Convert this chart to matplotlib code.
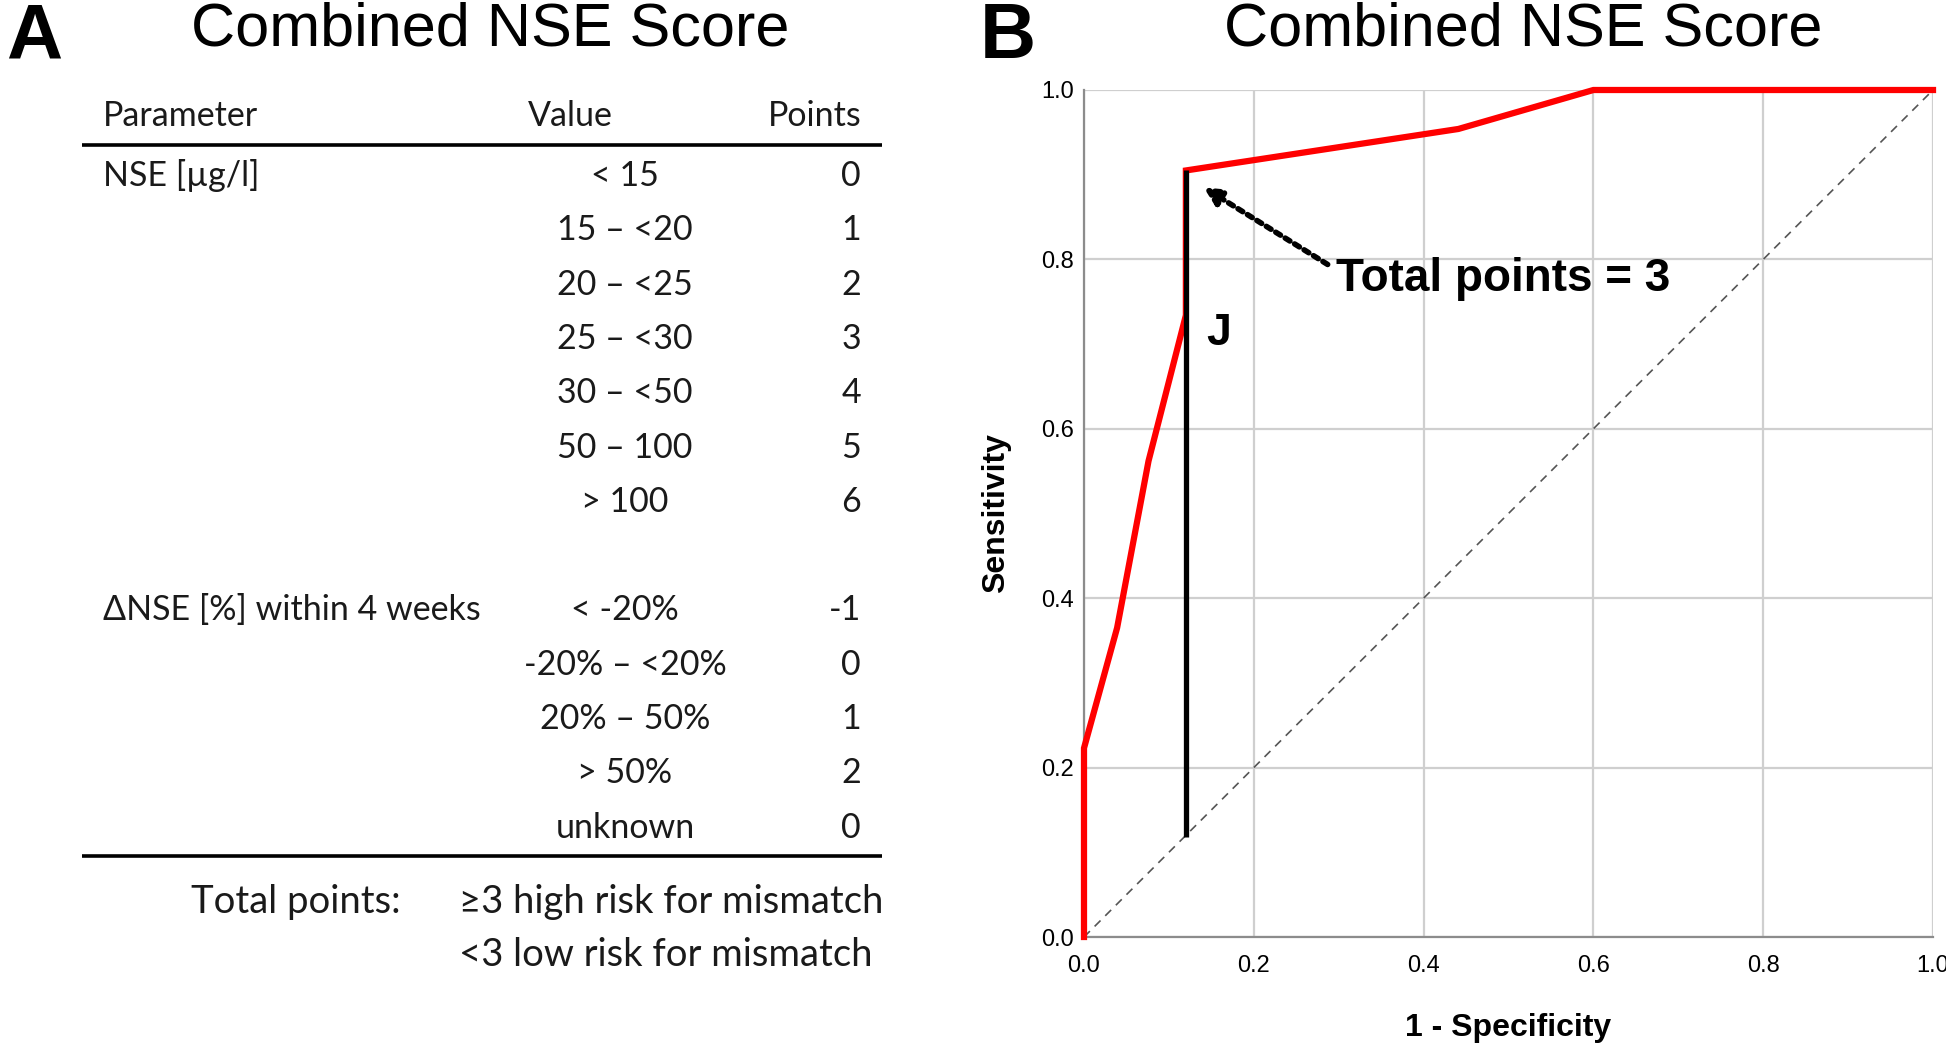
import matplotlib
matplotlib.use('Agg')
import matplotlib.pyplot as plt
from matplotlib import font_manager

# table data (panel A)
parameters = ['NSE [µg/l]', 'ΔNSE [%] within 4 weeks']
nse_values = ['< 15', '15 – <20', '20 – <25', '25 – <30', '30 – <50', '50 – 100', '> 100']
nse_points = ['0', '1', '2', '3', '4', '5', '6']
delta_values = ['< -20%', '-20% – <20%', '20% – 50%', '> 50%', 'unknown']
delta_points = ['-1', '0', '1', '2', '0']
total_label = 'Total points:'
total_rules = ['≥3 high risk for mismatch', '<3 low risk for mismatch']

# ROC data (panel B)
fpr = [0.0, 0.0, 0.039, 0.076, 0.12, 0.12, 0.441, 0.60, 1.0]
tpr = [0.0, 0.223, 0.365, 0.562, 0.734, 0.905, 0.954, 1.0, 1.0]
j_x = 0.12
j_low, j_high = 0.118, 0.906
ticks = [0.0, 0.2, 0.4, 0.6, 0.8, 1.0]


def has_font(name):
    try:
        font_manager.findfont(font_manager.FontProperties(family=name), fallback_to_default=False)
        return True
    except Exception:
        return False


helv = 'Liberation Sans'
narrow = 'Liberation Sans Narrow' if has_font('Liberation Sans Narrow') else helv
tabfont = 'Lato'
tsize = 24.5
fsize = 27.5
tcol = '#1a1a1a'

W, H = 1946, 1047
fig = plt.figure(figsize=(W / 100, H / 100), dpi=100)

# ---- panel A: drawn in pixel coords ----
tab = fig.add_axes([0, 0, 1, 1])
tab.set_xlim(0, W)
tab.set_ylim(H, 0)
tab.axis('off')

tab.text(6, 38, 'A', fontsize=56, fontweight='bold', family=narrow, va='center', ha='left')
tab.text(490, 30, 'Combined NSE Score', fontsize=44 if narrow == helv else 53,
         family=narrow, va='center', ha='center')

tab.text(103, 116, 'Parameter', fontsize=tsize, family=tabfont, color=tcol, va='center')
tab.text(570, 116, 'Value', fontsize=tsize, family=tabfont, color=tcol, va='center', ha='center')
tab.text(862, 116, 'Points', fontsize=tsize, family=tabfont, color=tcol, va='center', ha='right')
tab.plot([82, 882], [145, 145], color='black', lw=2.6, solid_capstyle='butt')

row0, step = 176, 54.3
rows = list(zip(nse_values, nse_points)) + [None] + list(zip(delta_values, delta_points))
for i, r in enumerate(rows):
    if r is None:
        continue
    y = row0 + i * step
    tab.text(625, y, r[0], fontsize=tsize, family=tabfont, color=tcol, va='center', ha='center')
    tab.text(861, y, r[1], fontsize=tsize, family=tabfont, color=tcol, va='center', ha='right')
tab.text(103, row0, parameters[0], fontsize=tsize, family=tabfont, color=tcol, va='center')
tab.text(103, row0 + (len(nse_values) + 1) * step, parameters[1], fontsize=tsize,
         family=tabfont, color=tcol, va='center')
tab.plot([82, 882], [856, 856], color='black', lw=2.6, solid_capstyle='butt')

tab.text(401, 902, total_label, fontsize=fsize, family=tabfont, color=tcol, va='center', ha='right')
for k, s in enumerate(total_rules):
    tab.text(459, 902 + k * 53, s, fontsize=fsize, family=tabfont, color=tcol, va='center', ha='left')

# ---- panel B: ROC ----
ax = fig.add_axes([1084 / W, 1 - 937 / H, (1933 - 1084) / W, (937 - 90) / H])
ax.set_xlim(0, 1)
ax.set_ylim(0, 1)
ax.set_xticks(ticks)
ax.set_yticks(ticks)
ax.set_xticklabels([f'{t:.1f}' for t in ticks], family=helv, fontsize=17)
ax.set_yticklabels([f'{t:.1f}' for t in ticks], family=helv, fontsize=17)
ax.tick_params(length=0, pad=7)
ax.tick_params(axis='x', pad=13)
ax.grid(True, color='#cfcfcf', lw=1.6)
ax.set_axisbelow(True)
for s in ['top', 'right']:
    ax.spines[s].set_visible(False)
for s in ['left', 'bottom']:
    ax.spines[s].set_color('#8c8c8c')
    ax.spines[s].set_linewidth(1.6)

ax.plot([0, 1], [0, 1], ls=(0, (5, 4)), color='#555555', lw=1.2, clip_on=False)
ax.plot(fpr, tpr, color='#ff0000', lw=4.5, clip_on=False, solid_joinstyle='miter', zorder=3)
ax.plot([j_x, j_x], [j_low, j_high], color='black', lw=3.8, zorder=4, solid_capstyle='butt')

ax.annotate('', xy=(0.141, 0.885), xytext=(0.287, 0.794),
            arrowprops=dict(arrowstyle='-|>', ls=(0, (1, 1)), lw=4, color='black',
                            mutation_scale=26, shrinkA=0, shrinkB=0))
ax.text(0.297, 0.777, 'Total points = 3', fontsize=33, fontweight='bold', family=helv,
        va='center', ha='left')
ax.text(0.159, 0.713, 'J', fontsize=32, fontweight='bold', family=helv, va='center', ha='center')

ax.set_xlabel('1 - Specificity', fontsize=23, fontweight='bold', family=helv, labelpad=26)
ax.set_ylabel('Sensitivity', fontsize=23, fontweight='bold', family=helv, labelpad=22)

fig.text(980 / W, 1 - 38 / H, 'B', fontsize=56, fontweight='bold', family=narrow, va='center')
fig.text(1523 / W, 1 - 30 / H, 'Combined NSE Score', fontsize=44, family=helv,
         va='center', ha='center')

fig.savefig('out.png', dpi=100)
